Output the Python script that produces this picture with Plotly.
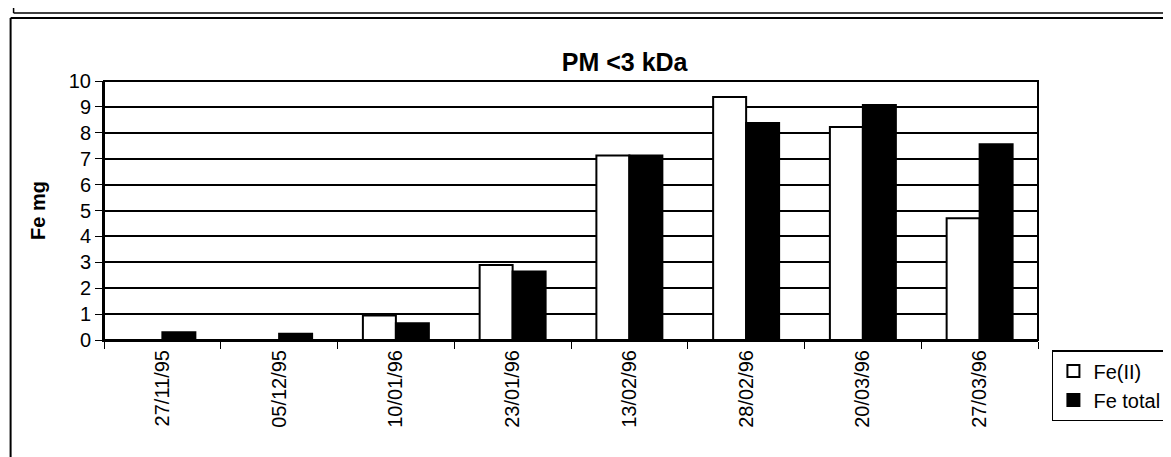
import plotly.graph_objects as go

categories = ["27/11/95", "05/12/95", "10/01/96", "23/01/96", "13/02/96", "28/02/96", "20/03/96", "27/03/96"]
fe_ii = [0, 0, 0.95, 2.9, 7.12, 9.38, 8.22, 4.7]
fe_total = [0.3, 0.24, 0.65, 2.64, 7.12, 8.38, 9.07, 7.56]
y_ticks = list(range(0, 11))

W, H = 1171, 457
L, R, T, B = 96, 1036, 73, 332

def px(x):
    return (x - L) / (R - L)

def py(y):
    return (B - y) / (B - T)

fig = go.Figure()
fig.add_trace(go.Bar(name="Fe(II)", x=categories, y=fe_ii,
                     marker=dict(color="white", line=dict(color="black", width=2))))
fig.add_trace(go.Bar(name="Fe total", x=categories, y=fe_total,
                     marker=dict(color="black", line=dict(color="black", width=2))))

font = "Liberation Sans, Arial, sans-serif"
shapes = [
    dict(type="line", xref="paper", yref="paper", x0=px(2), x1=px(W), y0=py(10), y1=py(10),
         line=dict(color="black", width=2)),
    dict(type="line", xref="paper", yref="paper", x0=px(2), x1=px(2), y0=py(10), y1=py(H),
         line=dict(color="black", width=2)),
    dict(type="line", xref="paper", yref="paper", x0=px(5), x1=px(W), y0=py(5), y1=py(5),
         line=dict(color="black", width=1.5)),
    dict(type="line", xref="paper", yref="paper", x0=px(5), x1=px(5), y0=py(0), y1=py(5),
         line=dict(color="black", width=1.5)),
    dict(type="rect", xref="paper", yref="paper", x0=0, x1=1, y0=0, y1=1,
         line=dict(color="black", width=2)),
]

fig.update_layout(
    width=W, height=H,
    margin=dict(l=L, r=W - R, t=T, b=H - B, pad=0),
    paper_bgcolor="white", plot_bgcolor="white",
    barmode="group", bargap=0.435, bargroupgap=0,
    font=dict(family=font, size=20, color="black"),
    title=dict(text="<b>PM <3 kDa</b>", x=px(591), xanchor="center", y=1 - 54 / H, yanchor="middle",
               font=dict(family=font, size=25, color="black")),
    showlegend=True,
    legend=dict(x=px(1050), y=py(342), xanchor="left", yanchor="top",
                bordercolor="black", borderwidth=1.5, bgcolor="white",
                font=dict(family=font, size=20, color="black"),
                tracegroupgap=4, itemwidth=30),
    shapes=shapes,
    xaxis=dict(showline=True, linecolor="black", linewidth=2, ticks="outside", tickson="boundaries",
               ticklen=7, tickcolor="black", tickangle=-90, tickfont=dict(size=20),
               showgrid=False, mirror=False),
    yaxis=dict(range=[0, 10], tickvals=y_ticks, showline=True, linecolor="black", linewidth=2,
               ticks="outside", ticklen=7, tickcolor="black", showgrid=True, gridcolor="black",
               gridwidth=1.5, zeroline=False, tickfont=dict(size=20),
               title=dict(text="<b>Fe mg</b>", font=dict(size=20), standoff=18)),
)

fig.write_html("out.html")
